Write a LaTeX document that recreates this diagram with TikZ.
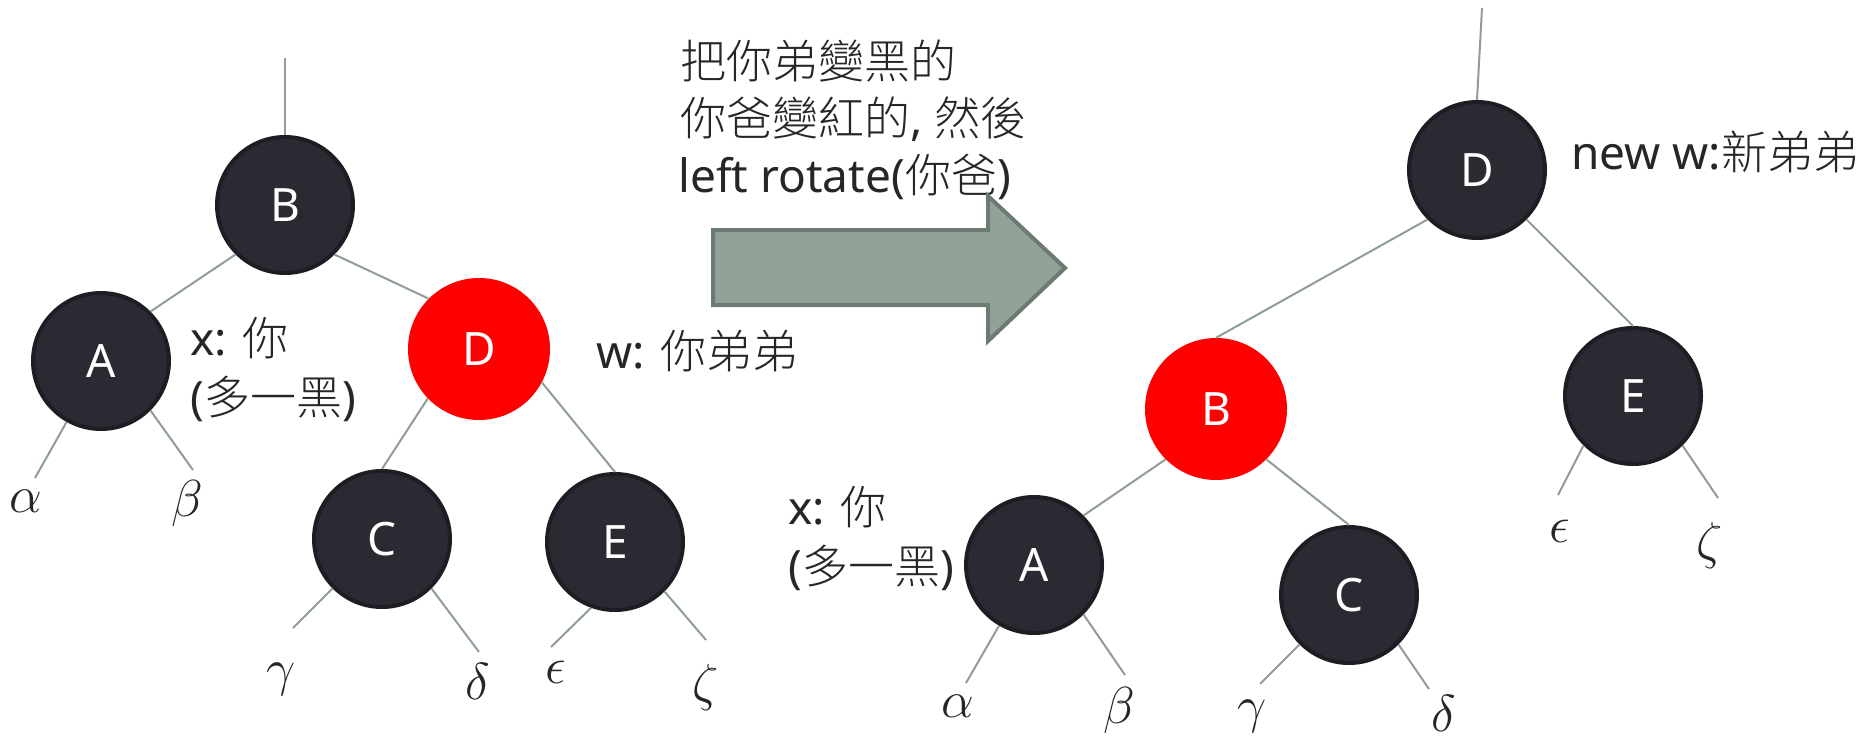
\documentclass[tikz,border=0pt]{standalone}
\usepackage{fix-cm}
\usepackage{fontspec}
\setmainfont{Noto Sans}
\newfontfamily\cjk{Noto Sans CJK TC Light}
\definecolor{nodefill}{HTML}{2A2A33}
\definecolor{nodeborder}{HTML}{1D1D23}
\definecolor{edgec}{HTML}{8E9E96}
\definecolor{arrowfill}{HTML}{91A398}
\definecolor{arrowdraw}{HTML}{6D7A71}
\definecolor{txt}{HTML}{262626}
\definecolor{rbred}{HTML}{FF0000}
\tikzset{
  rb/.style={circle, minimum size=136pt, inner sep=0pt, fill=nodefill, draw=nodeborder, line width=4pt, text=white, font=\fontsize{46}{46}\selectfont},
  redn/.style={circle, minimum size=142pt, inner sep=0pt, fill=rbred, text=white, font=\fontsize{46}{46}\selectfont},
  edge/.style={draw=edgec, line width=2pt},
  lbl/.style={anchor=base west, inner sep=0pt, text=txt, font=\fontsize{46}{58}\selectfont},
  gk/.style={inner sep=0pt, text=txt, font=\fontsize{52}{52}\selectfont}
}
\begin{document}
\begin{tikzpicture}[x=1pt,y=-1pt]
\useasboundingbox (0,0) rectangle (1858,741);
% ---------- left tree ----------
\node[rb] (B1) at (285,205) {B};
\node[rb] (A1) at (101,361) {A};
\node[redn] (D1) at (479,349) {D};
\node[rb] (C1) at (382,539) {C};
\node[rb] (E1) at (615,542) {E};
\coordinate (top1) at (285,58);
\draw[edge] (top1) -- (B1.north);
\draw[edge] (B1.-135) -- (A1.45);
\draw[edge] (B1.-45) -- (D1.135);
\draw[edge] (D1.-136) -- (C1.north);
\draw[edge] (D1.-28) -- (E1.north);
\coordinate (a1e) at (35,478);
\coordinate (b1e) at (193,470);
\coordinate (g1e) at (293,628);
\coordinate (d1e) at (479,652);
\coordinate (e1e) at (551,647);
\coordinate (z1e) at (706,640);
\draw[edge] (A1) -- (a1e);
\draw[edge] (A1.-45) -- (b1e);
\draw[edge] (C1.-135) -- (g1e);
\draw[edge] (C1.-45) -- (d1e);
\draw[edge] (E1.-110) -- (e1e);
\draw[edge] (E1.-45) -- (z1e);
\node[gk] (al1) at (26,501) {$\alpha$};
\node[gk] (be1) at (187,503) {$\beta$};
\node[gk] (ga1) at (281,679) {$\gamma$};
\node[gk] (de1) at (478,681) {$\delta$};
\node[gk] (ep1) at (556,672) {$\epsilon$};
\node[gk] (ze1) at (706,687) {$\zeta$};
\node[lbl] (x1a) at (190,355) {x: {\cjk 你}};
\node[lbl] (x1b) at (190,414) {({\cjk 多一黑})};
\node[lbl] (w1) at (596,368) {w: {\cjk 你弟弟}};
% ---------- middle ----------
\node[lbl] (t1) at (680,79) {\cjk 把你弟變黑的};
\node[lbl] (t2) at (680,136) {{\cjk 你爸變紅的}, {\cjk 然後}};
\node[lbl] (t3) at (678,192) {left rotate({\cjk 你爸})};
\draw[fill=arrowfill, draw=arrowdraw, line width=4pt, line join=miter]
  (713,230) -- (988,230) -- (988,196) -- (1065,268) -- (988,341) -- (988,305) -- (713,305) -- cycle;
% ---------- right tree ----------
\node[rb] (D2) at (1477,170) {D};
\node[rb] (E2) at (1633,396) {E};
\node[redn] (B2) at (1216,409) {B};
\node[rb] (C2) at (1349,595) {C};
\node[rb] (A2) at (1034,565) {A};
\coordinate (top2) at (1482,8);
\draw[edge] (top2) -- (D2.north);
\draw[edge] (D2.-135) -- (B2.north);
\draw[edge] (D2.-45) -- (E2.north);
\draw[edge] (B2.-135) -- (A2.45);
\draw[edge] (B2.-45) -- (C2.north);
\coordinate (e2e) at (1558,495);
\coordinate (z2e) at (1718,498);
\coordinate (g2e) at (1260,684);
\coordinate (d2e) at (1429,689);
\coordinate (a2e) at (966,683);
\coordinate (b2e) at (1125,675);
\draw[edge] (E2.-135) -- (e2e);
\draw[edge] (E2.-45) -- (z2e);
\draw[edge] (C2.-135) -- (g2e);
\draw[edge] (C2.-45) -- (d2e);
\draw[edge] (A2) -- (a2e);
\draw[edge] (A2.-45) -- (b2e);
\node[gk] (al2) at (958,706) {$\alpha$};
\node[gk] (be2) at (1119,710) {$\beta$};
\node[gk] (ga2) at (1252,716) {$\gamma$};
\node[gk] (de2) at (1444,713) {$\delta$};
\node[gk] (ep2) at (1560,531) {$\epsilon$};
\node[gk] (ze2) at (1710,545) {$\zeta$};
\node[lbl] (nw) at (1571,170) {new w:{\cjk 新弟弟}};
\node[lbl] (x2a) at (788,524) {x: {\cjk 你}};
\node[lbl] (x2b) at (788,583) {({\cjk 多一黑})};
\end{tikzpicture}
\end{document}
